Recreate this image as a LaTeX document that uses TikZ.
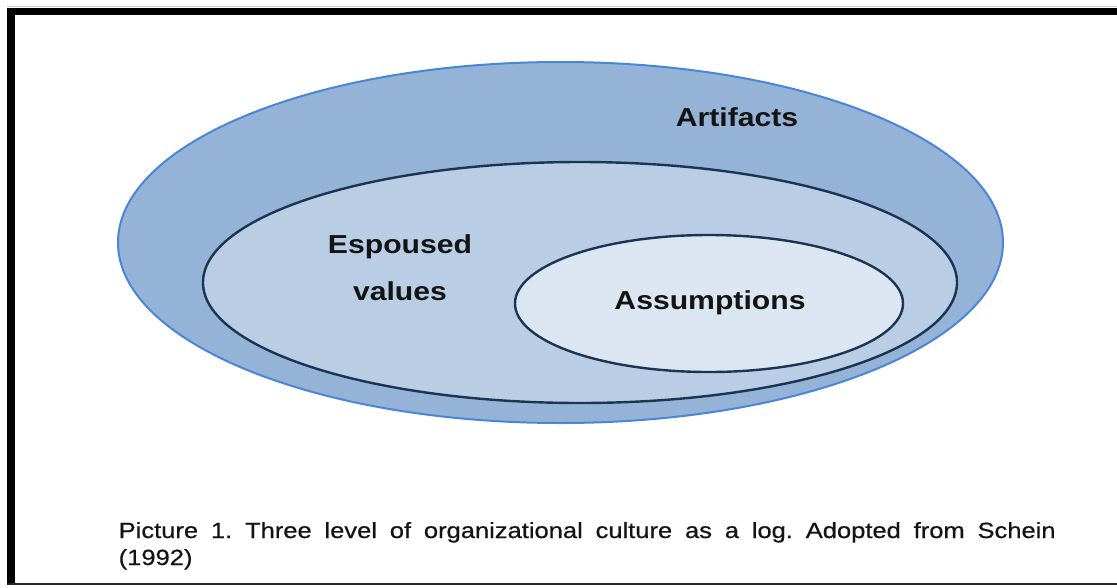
\documentclass[tikz,border=0pt]{standalone}
\usepackage{fontspec}
\setmainfont{Liberation Sans}
\newfontfamily\lblfont[FakeStretch=1.16]{Liberation Sans}
\newfontfamily\capfont[FakeStretch=1.16,FakeBold=0.6]{Liberation Sans}
\usetikzlibrary{shapes.geometric}
\frenchspacing
\definecolor{outerfill}{HTML}{95B3D7}
\definecolor{outerline}{HTML}{4A86D8}
\definecolor{midfill}{HTML}{B9CDE5}
\definecolor{innerfill}{HTML}{DCE6F2}
\definecolor{ringline}{HTML}{1B3452}
\definecolor{labelink}{HTML}{141414}
\begin{document}
\begin{tikzpicture}[x=1pt,y=-1pt,
  level/.style={ellipse, inner sep=0pt, outer sep=0pt},
  lbl/.style={inner sep=0pt, text=labelink, font={\lblfont\bfseries\fontsize{26}{47}\selectfont}, align=center},
  caption/.style={inner sep=0pt, anchor=base west, text=labelink, font={\capfont\fontsize{22}{27}\selectfont}}]
  \useasboundingbox (0,0) rectangle (1117,587);
  \fill[white] (0,0) rectangle (1117,587);

  % frame: heavy top and left rules, thin bottom rule
  \draw[black!20, line width=0.8pt] (7,6.8) -- (1117,6.8);
  \fill[black] (7.3,7.8) rectangle (1117,15.3);
  \fill[black] (7.3,7.8) rectangle (15.3,585.3);
  \fill[black!85] (7.3,583.4) rectangle (1117,585.3);

  % three nested levels
  \node[level, draw=outerline, line width=2pt, fill=outerfill,
        minimum width=885pt, minimum height=361pt] (artifacts) at (560.5,242.5) {};
  \node[level, draw=ringline, line width=2.4pt, fill=midfill,
        minimum width=754pt, minimum height=241pt] (values) at (580,282.5) {};
  \node[level, draw=ringline, line width=2.4pt, fill=innerfill,
        minimum width=388pt, minimum height=137pt] (assumptions) at (709,303.5) {};

  % level labels (base anchor of a two-line label sits on its last line)
  \node[lbl] (artlbl) at (737,117) {Artifacts};
  \node[lbl, anchor=base] (vallbl) at (400,300) {Espoused\\values};
  \node[lbl] (asslbl) at (710,303) {Assumptions};

  % caption
  \node[caption] (cap1) at (118.5,538) {\makebox[937pt][s]{Picture 1. Three level of organizational culture as a log. Adopted from Schein}};
  \node[caption] (cap2) at (118.5,565) {(1992)};
\end{tikzpicture}
\end{document}
